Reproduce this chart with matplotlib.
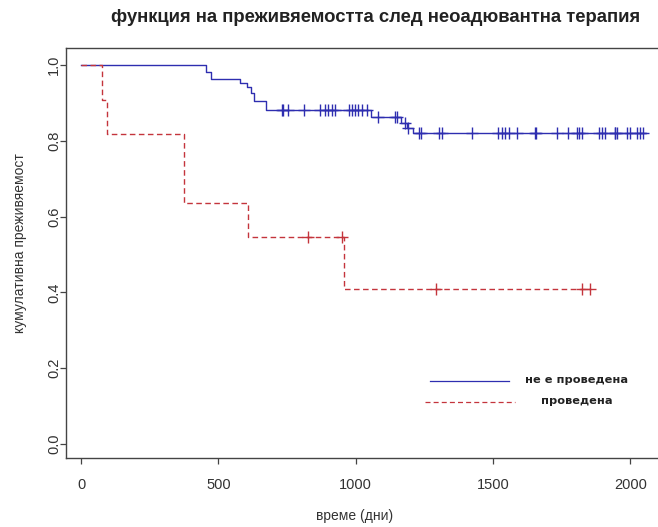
import matplotlib
matplotlib.use("Agg")
import matplotlib.pyplot as plt
from matplotlib.lines import Line2D

# ---------- survival curves (Kaplan-Meier steps) ----------
# group without neoadjuvant therapy
no_t = [0, 455, 472, 580, 605, 618, 628, 675, 1055, 1165, 1188, 1210, 2058]
no_s = [1.0, 0.982, 0.962, 0.953, 0.943, 0.925, 0.905, 0.881, 0.864, 0.848,
        0.835, 0.821, 0.821]
no_cens_t = [731, 737, 755, 810, 871, 889, 900, 913, 925, 974, 986, 998,
             1010, 1023, 1042, 1082, 1145, 1150, 1180, 1191,
             1229, 1238, 1302, 1314, 1423, 1520, 1533, 1545, 1557, 1587,
             1652, 1656, 1733, 1775, 1806, 1814, 1823, 1885, 1897, 1909,
             1943, 1946, 1951, 1988, 2000, 2024, 2036, 2048]

# group with neoadjuvant therapy
yes_t = [0, 75, 93, 375, 609, 956, 1855]
yes_s = [1.0, 0.909, 0.818, 0.636, 0.545, 0.409, 0.409]
yes_cens_t = [828, 950, 1293, 1824, 1852]

labels = ["не е проведена", "проведена"]
BLUE = "#2e2eb0"
RED = "#c4343c"


def surv_at(times, surv, t):
    # value of the step function just after time t
    val = surv[0]
    for ti, si in zip(times, surv):
        if ti <= t:
            val = si
    return val


fig = plt.figure(figsize=(6.58, 5.27), dpi=100)
ax = fig.add_axes([66 / 658, 1 - 458 / 527, 606 / 658, 410 / 527])

ax.step(no_t, no_s, where="post", color=BLUE, lw=1.0)
ax.plot(no_cens_t, [surv_at(no_t, no_s, t) for t in no_cens_t], ls="none",
        marker="+", ms=8, mew=1.0, color=BLUE)

ax.step(yes_t, yes_s, where="post", color=RED, lw=1.0, ls=(0, (4, 2.5)))
ax.plot(yes_cens_t, [surv_at(yes_t, yes_s, t) for t in yes_cens_t], ls="none",
        marker="+", ms=8, mew=1.0, color=RED)

ax.set_xlim(-55, 2152)
ax.set_ylim(-0.037, 1.045)
ax.set_xticks([0, 500, 1000, 1500, 2000])
ax.set_yticks([0.0, 0.2, 0.4, 0.6, 0.8, 1.0])
ax.set_yticklabels(["0.0", "0.2", "0.4", "0.6", "0.8", "1.0"], rotation=90,
                   va="center")

for lab in ax.get_xticklabels() + ax.get_yticklabels():
    lab.set_fontfamily("Liberation Sans")
    lab.set_fontsize(10.5)
    lab.set_color("#333333")
ax.tick_params(direction="out", length=4.5, width=0.9, color="#444444")
ax.tick_params(axis="x", pad=10)
ax.tick_params(axis="y", pad=-1)
for sp in ax.spines.values():
    sp.set_color("#444444")
    sp.set_linewidth(1.0)

ax.set_xlabel("време (дни)", fontfamily="Liberation Sans", fontsize=10,
              color="#333333")
ax.set_ylabel("кумулативна преживяемост", fontfamily="Liberation Sans",
              fontsize=10, color="#333333")
ax.xaxis.set_label_coords((355 - 66) / 606, -(509 - 458) / 410)
ax.yaxis.set_label_coords(-(66 - 27) / 606, (458 - 243) / 410)

fig.text(376 / 658, 1 - 17 / 527,
         "функция на преживяемостта след неоадювантна терапия",
         ha="center", va="center", fontfamily="Liberation Sans",
         fontsize=13.3, fontweight="bold", color="#222222")

# legend without frame, text centred under each other
ax.add_line(Line2D([0.601, 0.731], [0.188, 0.188], transform=ax.transAxes,
                   color=BLUE, lw=0.9))
ax.add_line(Line2D([0.592, 0.741], [0.137, 0.137], transform=ax.transAxes,
                   color=RED, lw=0.9, ls=(0, (4, 2.5))))
ax.text(0.843, 0.190, labels[0], transform=ax.transAxes, ha="center",
        va="center", fontsize=8.2, fontweight="bold", color="#222222")
ax.text(0.843, 0.139, labels[1], transform=ax.transAxes, ha="center",
        va="center", fontsize=8.2, fontweight="bold", color="#222222")

fig.savefig("out.png", dpi=100)
